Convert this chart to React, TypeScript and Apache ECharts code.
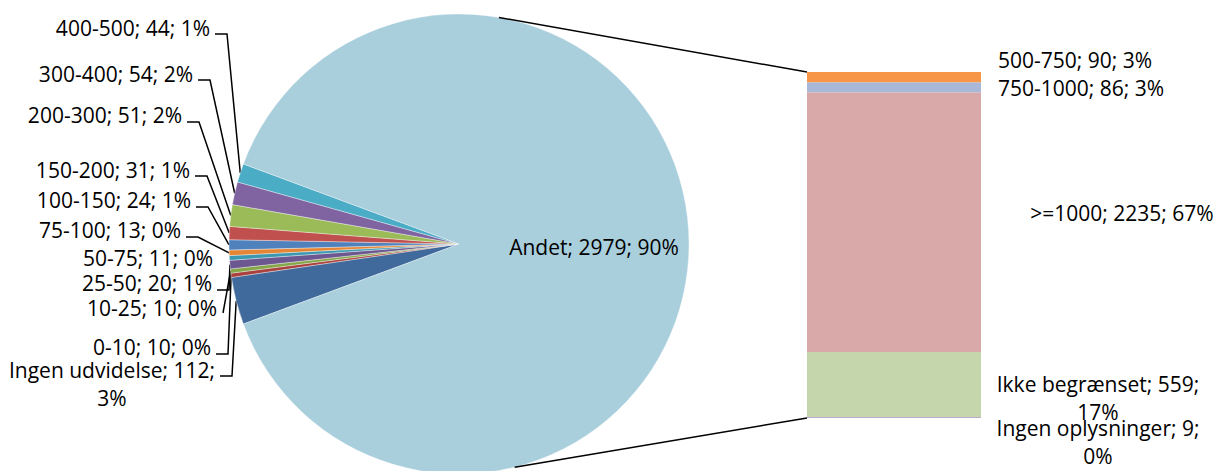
import React, { useEffect, useRef } from "react";
import * as echarts from "echarts";

// ---------- data ----------
const pieNames = ["Ingen udvidelse", "0-10", "10-25", "25-50", "50-75", "75-100", "100-150", "150-200", "200-300", "300-400", "400-500"];
const pieValues = [112, 10, 10, 20, 11, 13, 24, 31, 51, 54, 44];
const piePct = [3, 0, 0, 1, 0, 0, 1, 1, 2, 2, 1];
const otherName = "Andet";
const otherPct = 90;
const barNames = ["500-750", "750-1000", ">=1000", "Ikke begrænset", "Ingen oplysninger"];
const barValues = [90, 86, 2235, 559, 9];
const barPct = [3, 3, 67, 17, 0];

// ---------- styles ----------
const pieColors = ["#3F6A9B", "#A9423F", "#86A64A", "#6C5791", "#3C98B0", "#E58636", "#4F81BD", "#C0504D", "#9BBB59", "#8064A2", "#4BACC6"];
const otherColor = "#A9CEDC";
const barColors = ["#F79646", "#A9B8D8", "#D9A9AA", "#C6D6AC", "#B8AACB"];
const FONT = "'Open Sans', sans-serif";
const FONT_SIZE = 21;
const LINE_H_WRAP = 28;
const LINE_H_SINGLE = 20;

// ---------- layout ----------
const W = 1219;
const H = 471;
const PIE = { cx: 459, cy: 244, r: 230 };
const BAR = { left: 807, top: 72, width: 174, height: 346 };
const CONNECT_ANGLES = [80, -76];
// [label right x, label centre y, leader y, kind] kind: 0 none, 1 elbow, 2 straight
const pieLabelPos = [
  [215, 384, 376, 1],
  [211, 347, 354, 1],
  [217, 308, 313, 2],
  [212, 283, 290, 1],
  [213, 258, 0, 0],
  [181, 230, 237, 1],
  [191, 200, 207, 1],
  [190, 170, 176, 1],
  [182, 115, 122, 1],
  [193, 74, 80, 1],
  [210, 28, 34, 1],
];
const pieWrap = [true, false, false, false, false, false, false, false, false, false, false];
const otherLabelPos = [594, 247];
const barLabelPos = [
  [1075, 60],
  [1081, 88],
  [1122, 213],
  [1098, 398],
  [1098, 442],
];
const barWrap = [false, false, false, true, true];

export default function App() {
  const ref = useRef<HTMLDivElement>(null);

  useEffect(() => {
    if (!ref.current) return;
    const chart = echarts.init(ref.current, undefined, { renderer: "svg" });

    const otherTotal = barValues.reduce((a, b) => a + b, 0);
    const smallTotal = pieValues.reduce((a, b) => a + b, 0);
    const total = smallTotal + otherTotal;
    const span = (smallTotal / total) * 360;
    const startAngle = 180 + span / 2;

    const pieData: any[] = pieNames.map((n, i) => ({
      name: n,
      value: pieValues[i],
      itemStyle: { color: pieColors[i] },
      label: { lineHeight: pieWrap[i] ? LINE_H_WRAP : LINE_H_SINGLE },
      labelLine: { show: pieLabelPos[i][3] !== 0 },
    }));
    pieData.push({
      name: otherName,
      value: otherTotal,
      itemStyle: { color: otherColor },
      label: { position: "inside", lineHeight: LINE_H_SINGLE },
      labelLine: { show: false },
    });

    const textStyle = {
      color: "#000",
      fontFamily: FONT,
      fontSize: FONT_SIZE,
    };

    const pieSeries: any = {
      type: "pie",
      center: [PIE.cx, PIE.cy],
      radius: PIE.r,
      startAngle,
      clockwise: true,
      avoidLabelOverlap: false,
      silent: true,
      itemStyle: { borderColor: "rgba(255,255,255,0.6)", borderWidth: 0.6 },
      label: {
        show: true,
        ...textStyle,
        formatter: (p: any) => {
          const i = p.dataIndex;
          if (i >= pieNames.length) return `${p.name}; ${p.value}; ${otherPct}%`;
          return pieWrap[i]
            ? `${p.name}; ${p.value};\n${piePct[i]}%`
            : `${p.name}; ${p.value}; ${piePct[i]}%`;
        },
      },
      labelLine: {
        show: true,
        length: 10,
        length2: 10,
        lineStyle: { color: "#000", width: 1.5 },
      },
      labelLayout: (params: any) => {
        const i = params.dataIndex;
        if (i >= pieNames.length) {
          return { x: otherLabelPos[0], y: otherLabelPos[1], align: "center", verticalAlign: "middle" };
        }
        const [rx, cy, ly, kind] = pieLabelPos[i];
        const w = params.labelRect.width;
        const res: any = { x: rx - w / 2, y: cy, align: "center", verticalAlign: "middle" };
        const pts = params.labelLinePoints;
        if (kind !== 0 && pts && pts.length) {
          const edge = pts[0];
          if (kind === 1) {
            res.labelLinePoints = [
              [edge[0], edge[1]],
              [rx + 17, ly],
              [rx + 5, ly],
            ];
          } else {
            res.labelLinePoints = [
              [edge[0], edge[1]],
              [(edge[0] + rx + 6) / 2, (edge[1] + ly) / 2],
              [rx + 6, ly],
            ];
          }
        }
        return res;
      },
      data: pieData,
    };

    const barSeries = barNames.map((n, i) => ({
      type: "bar",
      name: n,
      stack: "other",
      barWidth: "100%",
      silent: true,
      itemStyle: { color: barColors[i] },
      label: {
        show: true,
        position: "right",
        ...textStyle,
        lineHeight: barWrap[i] ? LINE_H_WRAP : LINE_H_SINGLE,
        formatter: (p: any) =>
          barWrap[i] ? `${n}; ${p.value};\n${barPct[i]}%` : `${n}; ${p.value}; ${barPct[i]}%`,
      },
      labelLayout: () => ({
        x: barLabelPos[i][0],
        y: barLabelPos[i][1],
        align: "center",
        verticalAlign: "middle",
      }),
      data: [barValues[i]],
    }));

    const toXY = (deg: number) => {
      const a = (deg * Math.PI) / 180;
      return [PIE.cx + PIE.r * Math.cos(a), PIE.cy - PIE.r * Math.sin(a)];
    };
    const pTop = toXY(CONNECT_ANGLES[0]);
    const pBot = toXY(CONNECT_ANGLES[1]);

    chart.setOption({
      animation: false,
      backgroundColor: "#fff",
      grid: { left: BAR.left, top: BAR.top, width: BAR.width, height: BAR.height, containLabel: false },
      xAxis: { type: "category", data: [""], show: false },
      yAxis: { type: "value", min: 0, max: otherTotal, inverse: true, show: false },
      series: [pieSeries, ...barSeries],
      graphic: [
        {
          type: "line",
          z: 100,
          shape: { x1: pTop[0], y1: pTop[1], x2: BAR.left, y2: BAR.top },
          style: { stroke: "#000", lineWidth: 1.5 },
        },
        {
          type: "line",
          z: 100,
          shape: { x1: pBot[0], y1: pBot[1], x2: BAR.left, y2: BAR.top + BAR.height },
          style: { stroke: "#000", lineWidth: 1.5 },
        },
      ],
    });

    return () => chart.dispose();
  }, []);

  return (
    <div
      ref={ref}
      style={{ position: "absolute", left: 0, top: 0, width: W, height: H, background: "#fff" }}
    />
  );
}
